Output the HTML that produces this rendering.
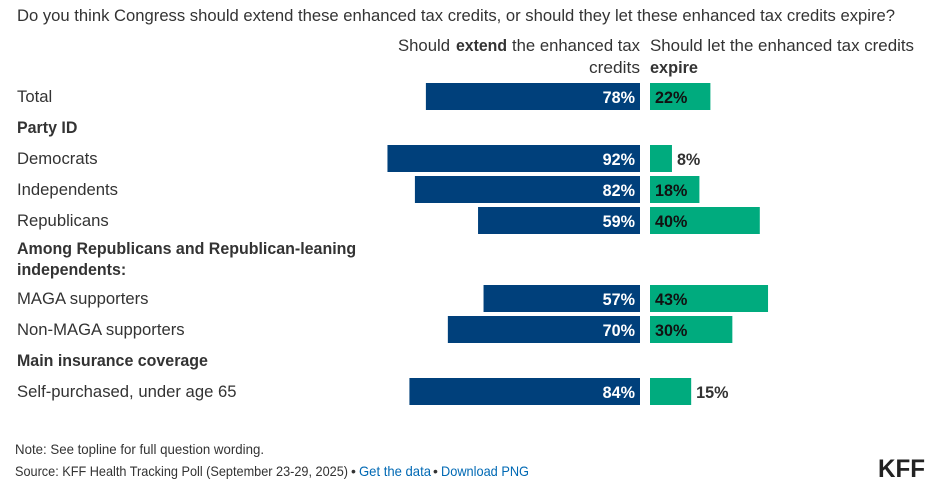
<!DOCTYPE html>
<html lang="en">
<head>
<meta charset="utf-8">
<title>Enhanced tax credits poll</title>
<style>
html,body{margin:0;padding:0;background:#fff;width:937px;height:486px;overflow:hidden}
svg{display:block}
text{font-family:"Liberation Sans",sans-serif;fill:#333}
.b{font-weight:700}
a text{fill:#0069b4}
</style>
</head>
<body>
<svg id="chart" width="937" height="486" viewBox="0 0 937 486" xmlns="http://www.w3.org/2000/svg">
<text class="fit" data-w="878" x="17" y="21" font-size="17">Do you think Congress should extend these enhanced tax credits, or should they let these enhanced tax credits expire?</text>
<g>
<text class="fit" data-w="52" x="398" y="51" font-size="17">Should</text>
<text class="fit b" data-w="51" x="456" y="51" font-size="17">extend</text>
<text class="fit" data-w="128" x="512" y="51" font-size="17">the enhanced tax</text>
<text class="fit" data-w="51" x="589" y="73" font-size="17">credits</text>
</g>
<g>
<text class="fit" data-w="264" x="650" y="51" font-size="17">Should let the enhanced tax credits</text>
<text class="fit b" data-w="48" x="650" y="73" font-size="17">expire</text>
</g>
<g id="rows"></g>
<text class="fit" data-w="249" x="15" y="454" font-size="14">Note: See topline for full question wording.</text>
<text class="fit" data-w="333" x="15" y="476" font-size="14">Source: KFF Health Tracking Poll (September 23-29, 2025)</text>
<text x="351" y="476" font-size="14">•</text>
<a href="#"><text class="fit" data-w="72" x="359" y="476" font-size="14">Get the data</text></a>
<text x="433" y="476" font-size="14">•</text>
<a href="#"><text class="fit" data-w="88" x="441" y="476" font-size="14">Download PNG</text></a>
<text class="fit" data-w="47" x="878" y="477" font-size="25" font-weight="700" style="fill:#222">KFF</text>
</svg>
<script>
const categories = ["Total", "Party ID", "Democrats", "Independents", "Republicans", "Among Republicans and Republican-leaning|independents:", "MAGA supporters", "Non-MAGA supporters", "Main insurance coverage", "Self-purchased, under age 65"];
const extendValues = [78, null, 92, 82, 59, null, 57, 70, null, 84];
const expireValues = [22, null, 8, 18, 40, null, 43, 30, null, 15];

const NS = 'http://www.w3.org/2000/svg';
const rowsGroup = document.getElementById('rows');
const UNIT = 2.745, EXTEND_BASE = 640, EXPIRE_BASE = 650, ROW_H = 31, LINE_H = 16, BAR_H = 27, TOP = 83;
const REG_FACTOR = 0.98, BOLD_FACTOR = 0.94;

function len(v) { return v * UNIT; }
function slug(s) { return s.toLowerCase().replace(/[^a-z0-9]+/g, '-').replace(/^-|-$/g, ''); }
function fitTo(el, w) {
  el.setAttribute('textLength', w);
  el.setAttribute('lengthAdjust', 'spacingAndGlyphs');
}
function scaleText(el, f) {
  fitTo(el, el.getComputedTextLength() * f);
}
function makeText(str, x, y, bold) {
  const t = document.createElementNS(NS, 'text');
  t.textContent = str;
  t.setAttribute('x', x);
  t.setAttribute('y', y);
  t.setAttribute('font-size', 17);
  if (bold) t.setAttribute('class', 'b');
  return t;
}

document.querySelectorAll('.fit').forEach(function (el) {
  fitTo(el, +el.dataset.w);
});

let y = TOP;
categories.forEach(function (cat, i) {
  const isHeading = extendValues[i] === null;
  const lines = cat.split('|');
  const base = slug(lines[0]);
  const g = document.createElementNS(NS, 'g');
  
  
  rowsGroup.appendChild(g);

  lines.forEach(function (line, k) {
    const t = makeText(line, 17, y + 19 - (lines.length - 1) * 3 + k * 21, isHeading);
    
    
    g.appendChild(t);
    scaleText(t, isHeading ? BOLD_FACTOR : REG_FACTOR);
  });

  if (!isHeading) {
    const ev = extendValues[i], xv = expireValues[i];
    const r1 = document.createElementNS(NS, 'rect');
    r1.setAttribute('x', EXTEND_BASE - len(ev));
    r1.setAttribute('y', y);
    r1.setAttribute('width', len(ev));
    r1.setAttribute('height', BAR_H);
    r1.setAttribute('fill', '#00407b');
    
    
    g.appendChild(r1);

    const r2 = document.createElementNS(NS, 'rect');
    r2.setAttribute('x', EXPIRE_BASE);
    r2.setAttribute('y', y);
    r2.setAttribute('width', len(xv));
    r2.setAttribute('height', BAR_H);
    r2.setAttribute('fill', '#00ab7e');
    
    
    g.appendChild(r2);

    const v1 = makeText(ev + '%', EXTEND_BASE - 5, y + 20, true);
    v1.setAttribute('text-anchor', 'end');
    v1.style.fill = '#fff';
    
    
    g.appendChild(v1);
    scaleText(v1, 0.95);

    const inside = xv >= 18;
    const v2 = makeText(xv + '%', inside ? EXPIRE_BASE + 5 : EXPIRE_BASE + len(xv) + 5, y + 20, true);
    v2.style.fill = inside ? '#111' : '#333';
    
    
    g.appendChild(v2);
    scaleText(v2, 0.95);
  }
  y += ROW_H + (lines.length - 1) * LINE_H;
});
</script>
</body>
</html>
